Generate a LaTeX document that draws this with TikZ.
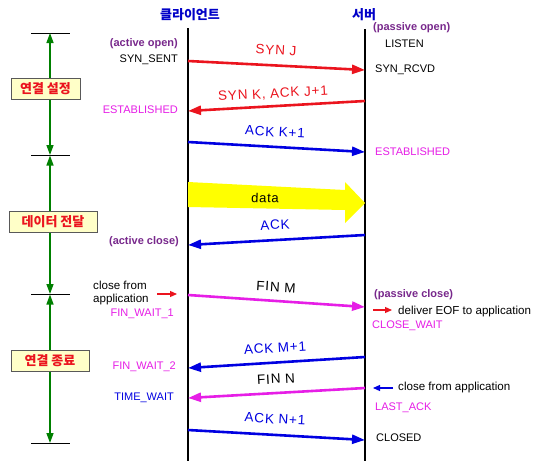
\documentclass[tikz,border=0pt]{standalone}
\usepackage{fontspec}
\setmainfont{Liberation Sans}
\newfontfamily\kr{Noto Sans CJK KR}
\newfontfamily\lbl[LetterSpace=6]{Liberation Sans}
\usetikzlibrary{arrows.meta}
\definecolor{cred}{RGB}{235,20,30}
\definecolor{cblue}{RGB}{0,0,225}
\definecolor{cmag}{RGB}{230,30,230}
\definecolor{cpur}{RGB}{120,40,140}
\definecolor{cgreen}{RGB}{0,128,0}
\definecolor{cyellow}{RGB}{255,255,0}
\definecolor{boxfill}{RGB}{255,255,200}
\definecolor{ttlblue}{RGB}{0,0,200}
\begin{document}
\begin{tikzpicture}[x=1pt,y=-1pt,
  msg/.style={line width=2.6pt,-{Triangle[length=13pt,width=9pt]}},
  lifeline/.style={line width=1.8pt,black},
  axisline/.style={line width=1.4pt,cgreen,-{Triangle[length=10pt,width=7pt]}},
  tick/.style={line width=1pt,black},
  phase/.style={draw=black!65,line width=1pt,fill=boxfill,text=cred,inner sep=0pt,minimum height=21pt,font=\kr\bfseries\fontsize{13}{13}\selectfont},
  msglabel/.style={inner sep=0pt,font=\lbl\fontsize{13.5}{13.5}\selectfont},
  lstate/.style={anchor=east,inner sep=0pt,font=\fontsize{11}{11}\selectfont},
  rstate/.style={anchor=west,inner sep=0pt,font=\fontsize{11}{11}\selectfont},
  rnote/.style={anchor=west,inner sep=0pt,font=\fontsize{11.6}{11.6}\selectfont},
  paren/.style={inner sep=0pt,text=cpur,font=\bfseries\fontsize{11}{11}\selectfont},
  small/.style={line width=1.2pt,-{Triangle[length=7pt,width=6pt]}},
  title/.style={inner sep=0pt,text=ttlblue,font=\kr\bfseries\fontsize{13}{13}\selectfont}]
\useasboundingbox (0,0) rectangle (538,461);
\fill[white] (0,0) rectangle (538,461);

% titles
\node[title] (tc) at (190,15) {클라이언트};
\node[title] (ts) at (364,15) {서버};

% lifelines
\coordinate (ctop) at (188,28);
\coordinate (cbot) at (188,461);
\coordinate (stop) at (365,29);
\coordinate (sbot) at (365,461);
\draw[lifeline] (ctop) -- (cbot);
\draw[lifeline] (stop) -- (sbot);

% phase axis
\coordinate (t0) at (50,33);
\coordinate (t1) at (50,155);
\coordinate (t2) at (50,294);
\coordinate (t3) at (50,443);
\foreach \t in {t0,t1,t2,t3}{\draw[tick] ([xshift=-19pt]\t) -- ([xshift=20pt]\t);}
\node[phase,minimum width=69pt] (p1) at (45.5,88.5) {연결 설정};
\node[phase,minimum width=88pt] (p2) at (53,222) {데이터 전달};
\node[phase,minimum width=78pt] (p3) at (50,360.5) {연결 종료};
\draw[axisline] (p1.north -| t0) -- (t0);
\draw[axisline] (p1.south -| t0) -- (t1);
\draw[axisline] (p2.north -| t0) -- ([yshift=-0.5pt]t1);
\draw[axisline] (p2.south -| t0) -- (t2);
\draw[axisline] (p3.north -| t0) -- ([yshift=-0.5pt]t2);
\draw[axisline] (p3.south -| t0) -- (t3);

% messages
\coordinate (c1) at (188,61);  \coordinate (s1) at (365,70);
\coordinate (s2) at (365,101); \coordinate (c2) at (188,111);
\coordinate (c3) at (188,142); \coordinate (s3) at (365,152);
\coordinate (s4) at (365,235); \coordinate (c4) at (188,245);
\coordinate (c5) at (188,295); \coordinate (s5) at (365,307);
\coordinate (s6) at (365,357); \coordinate (c6) at (188,368);
\coordinate (s7) at (365,388); \coordinate (c7) at (188,398);
\coordinate (c8) at (188,430); \coordinate (s8) at (365,440);
\draw[msg,cred] (c1) -- (s1);
\draw[msg,cred] (s2) -- (c2);
\draw[msg,cblue] (c3) -- (s3);
\draw[msg,cblue] (s4) -- (c4);
\draw[msg,cmag] (c5) -- (s5);
\draw[msg,cblue] (s6) -- (c6);
\draw[msg,cmag] (s7) -- (c7);
\draw[msg,cblue] (c8) -- (s8);

\node[msglabel,text=cred,rotate=-3] (m1) at (276,50) {SYN J};
\node[msglabel,text=cred,rotate=3.2] (m2) at (273,94) {SYN K, ACK J+1};
\node[msglabel,text=cblue,rotate=-3.2] (m3) at (275,132) {ACK K+1};
\node[msglabel,text=cblue,rotate=3.2] (m4) at (275,225) {ACK};
\node[msglabel,text=black,rotate=-3.5] (m5) at (276,287) {FIN M};
\node[msglabel,text=cblue,rotate=3.6] (m6) at (275,348) {ACK M+1};
\node[msglabel,text=black,rotate=3.2] (m7) at (276,379) {FIN N};
\node[msglabel,text=cblue,rotate=-3.2] (m8) at (275,419) {ACK N+1};

% data arrow
\fill[cyellow] (188,182) -- (345,190) -- (345,182) -- (365,203) -- (345,223) -- (345,210) -- (188,207) -- cycle;
\node[msglabel,font=\lbl\fontsize{13}{13}\selectfont,rotate=-2] (dl) at (265,198) {data};

% client side states
\node[paren,anchor=east] (ao) at (178,44) {(active open)};
\node[lstate] (ss) at (178,60) {SYN\_SENT};
\node[lstate,text=cmag] (ce) at (178,110) {ESTABLISHED};
\node[paren,anchor=east] (ac) at (179,242) {(active close)};
\node[anchor=west,inner sep=0pt,align=left,font=\fontsize{11.6}{13}\selectfont] (cfa) at (93,293) {close from\\application};
\coordinate (ra1) at (157,294); \coordinate (ra2) at (177,294);
\draw[small,cred] (ra1) -- (ra2);
\node[lstate,text=cmag] (fw1) at (174,314) {FIN\_WAIT\_1};
\node[lstate,text=cmag] (fw2) at (176,367) {FIN\_WAIT\_2};
\node[lstate,text=cblue] (tw) at (174,398) {TIME\_WAIT};

% server side states
\node[paren,anchor=west] (po) at (373,28) {(passive open)};
\node[rstate] (li) at (385,44) {LISTEN};
\node[rstate] (sr) at (375,70) {SYN\_RCVD};
\node[rstate,text=cmag] (se) at (375,152) {ESTABLISHED};
\node[paren,anchor=west] (pc) at (374,295) {(passive close)};
\coordinate (rb1) at (373,310); \coordinate (rb2) at (392,310);
\draw[small,cred] (rb1) -- (rb2);
\node[rnote] (eof) at (398,311) {deliver EOF to application};
\node[rstate,text=cmag] (cw) at (372,326) {CLOSE\_WAIT};
\coordinate (bb1) at (393,388); \coordinate (bb2) at (373,388);
\draw[small,cblue] (bb1) -- (bb2);
\node[rnote] (cfa2) at (398,387) {close from application};
\node[rstate,text=cmag] (la) at (375,408) {LAST\_ACK};
\node[rstate] (cl) at (376,438) {CLOSED};
\end{tikzpicture}
\end{document}
